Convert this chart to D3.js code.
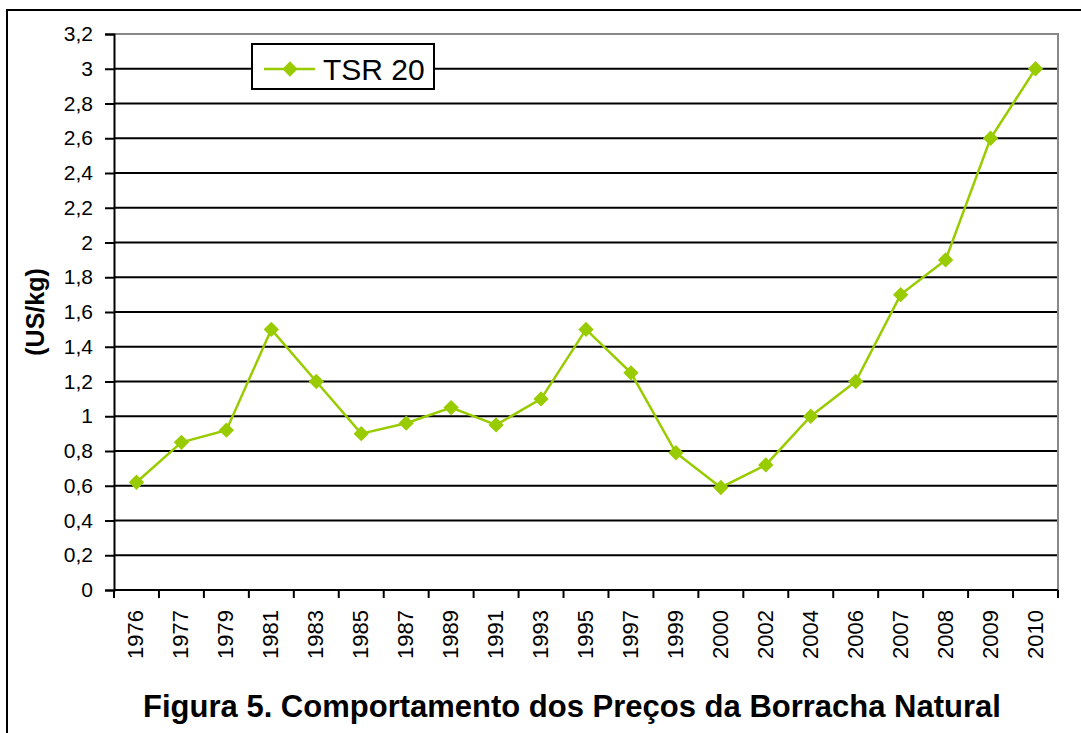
<!DOCTYPE html>
<html><head><meta charset="utf-8">
<script src="https://cdn.jsdelivr.net/npm/d3@7"></script>
<style>body{margin:0;background:#fff;}svg{display:block;font-family:"Liberation Sans",Arial,sans-serif;}</style>
</head><body>
<script>
const categories = ["1976","1977","1979","1981","1983","1985","1987","1989","1991","1993","1995","1997","1999","2000","2002","2004","2006","2007","2008","2009","2010"];
const values = [0.62,0.85,0.92,1.50,1.20,0.90,0.96,1.05,0.95,1.10,1.50,1.25,0.79,0.59,0.72,1.00,1.20,1.70,1.90,2.60,3.00];
const yTicks = [0,0.2,0.4,0.6,0.8,1,1.2,1.4,1.6,1.8,2,2.2,2.4,2.6,2.8,3,3.2];
const seriesName = "TSR 20";
const yTitle = "(US/kg)";
const title = "Figura 5. Comportamento dos Preços da Borracha Natural";

const W = 1081, H = 733;
const m = {left:114, right:1058, top:34, bottom:590};
const color = "#99CC00";
const FONT = "Liberation Sans, Arial, sans-serif";

const svg = d3.select("body").append("svg").attr("width", W).attr("height", H);
svg.append("rect").attr("width", W).attr("height", H).attr("fill", "#fff");
// outer frame
svg.append("rect").attr("x", 7).attr("y", 10).attr("width", 1100).attr("height", 760)
  .attr("fill", "none").attr("stroke", "#000").attr("stroke-width", 2);

const x = d3.scaleBand().domain(categories).range([m.left, m.right]);
const y = d3.scaleLinear().domain([0, 3.2]).range([m.bottom, m.top]);

// gridlines
svg.append("g").selectAll("line").data(yTicks.filter(t => t > 0 && t < 3.2)).join("line")
  .attr("x1", m.left).attr("x2", m.right).attr("y1", d => y(d)).attr("y2", d => y(d))
  .attr("stroke", "#000").attr("stroke-width", 2);
// plot border top/right
svg.append("path").attr("d", `M${m.left},${y(3.2)}H${m.right}V${m.bottom}`)
  .attr("fill", "none").attr("stroke", "#888").attr("stroke-width", 2);

const fmt = d => d3.format("~g")(+d.toFixed(1)).replace(".", ",");
const yAxis = svg.append("g").attr("transform", `translate(${m.left},0)`)
  .call(d3.axisLeft(y).tickValues(yTicks).tickFormat(fmt).tickSize(9).tickPadding(12));
yAxis.attr("font-family", FONT);
yAxis.select(".domain").attr("stroke", "#000").attr("stroke-width", 2);
yAxis.selectAll(".tick line").attr("stroke", "#000").attr("stroke-width", 2);
yAxis.selectAll(".tick text").attr("font-size", 21).attr("fill", "#000");

// x axis
const xa = svg.append("g");
xa.append("line").attr("x1", m.left).attr("x2", m.right).attr("y1", m.bottom).attr("y2", m.bottom)
  .attr("stroke", "#000").attr("stroke-width", 2);
const bounds = categories.map(c => x(c)).concat([x(categories[categories.length-1]) + x.bandwidth()]);
xa.selectAll("line.t").data(bounds).join("line").attr("class", "t")
  .attr("x1", d => d).attr("x2", d => d).attr("y1", m.bottom).attr("y2", m.bottom + 8)
  .attr("stroke", "#000").attr("stroke-width", 2);
xa.selectAll("text").data(categories).join("text")
  .attr("transform", d => `translate(${x(d) + x.bandwidth()/2 + 7},${m.bottom + 20}) rotate(-90)`)
  .attr("text-anchor", "end").attr("font-size", 22).attr("fill", "#000").text(d => d);

// y title
svg.append("text").attr("transform", `translate(44,${312}) rotate(-90)`)
  .attr("text-anchor", "middle").attr("font-size", 25).attr("font-weight", "bold").text(yTitle);

// line
const line = d3.line().x((d, i) => x(categories[i]) + x.bandwidth()/2).y(d => y(d));
svg.append("path").datum(values).attr("d", line).attr("fill", "none")
  .attr("stroke", color).attr("stroke-width", 2.5);
const diamond = d3.symbol().type(d3.symbolDiamond2).size(150);
svg.append("g").selectAll("path").data(values).join("path")
  .attr("transform", (d, i) => `translate(${x(categories[i]) + x.bandwidth()/2},${y(d)})`)
  .attr("d", diamond).attr("fill", color);

// legend
const lg = svg.append("g");
lg.append("rect").attr("x", 252).attr("y", 44).attr("width", 182).attr("height", 45)
  .attr("fill", "#fff").attr("stroke", "#000").attr("stroke-width", 2);
lg.append("line").attr("x1", 264).attr("x2", 315).attr("y1", 69).attr("y2", 69)
  .attr("stroke", color).attr("stroke-width", 2.5);
lg.append("path").attr("transform", "translate(290,69)").attr("d", diamond).attr("fill", color);
lg.append("text").attr("x", 323).attr("y", 80).attr("font-size", 30).attr("fill", "#000").text(seriesName);

// title
svg.append("text").attr("x", 572).attr("y", 717).attr("text-anchor", "middle")
  .attr("font-size", 31).attr("font-weight", "bold").text(title);
</script>
</body></html>
